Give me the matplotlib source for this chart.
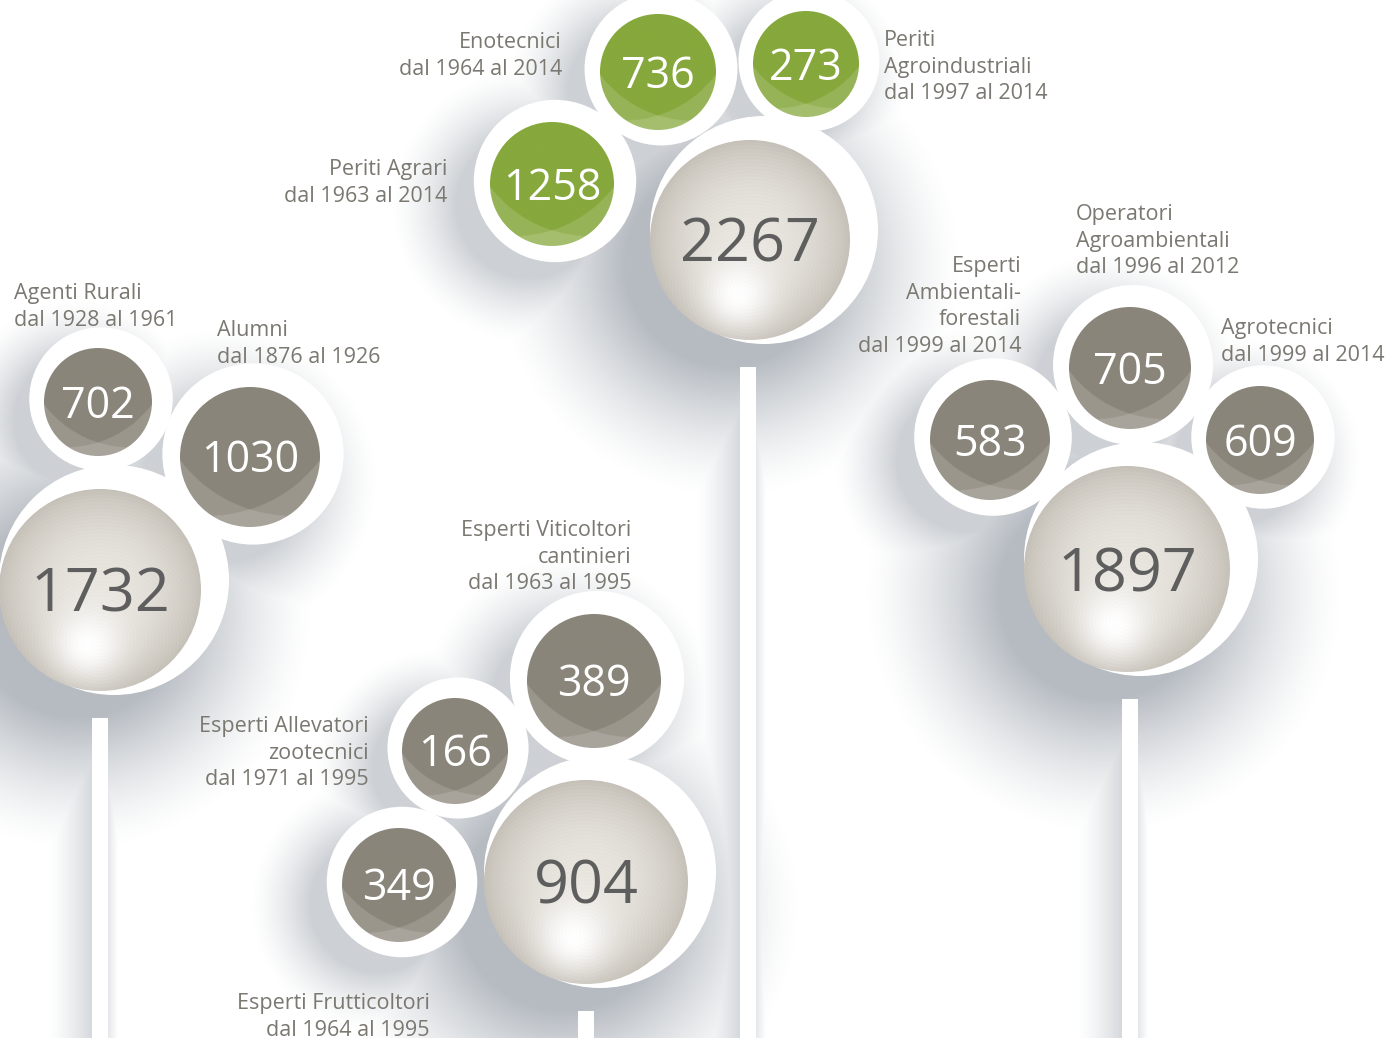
import numpy as np
import matplotlib.pyplot as plt
from matplotlib.patches import Circle

courses = ["Enotecnici", "Periti\nAgroindustriali", "Periti Agrari",
           "Agenti Rurali", "Alumni",
           "Esperti Viticoltori\ncantinieri", "Esperti Allevatori\nzootecnici",
           "Esperti Frutticoltori",
           "Esperti\nAmbientali-\nforestali", "Operatori\nAgroambientali", "Agrotecnici"]
periods = ["dal 1964 al 2014", "dal 1997 al 2014", "dal 1963 al 2014",
           "dal 1928 al 1961", "dal 1876 al 1926",
           "dal 1963 al 1995", "dal 1971 al 1995", "dal 1964 al 1995",
           "dal 1999 al 2014", "dal 1996 al 2012", "dal 1999 al 2014"]
graduates = [736, 273, 1258, 702, 1030, 389, 166, 349, 583, 705, 609]
course_group = [0, 0, 0, 1, 1, 2, 2, 2, 3, 3, 3]
group_totals = [2267, 1732, 904, 1897]

# ---- layout (pixels, y downwards) ----
W, H = 1394, 1038
course_xy = [(658, 72), (806, 64), (552, 184), (98, 402), (250, 457),
             (594, 681), (455, 751), (399, 885), (990, 440), (1130, 368), (1260, 440)]
course_r = [58, 53, 62, 54, 70, 67, 53, 57, 60, 61, 54]
label_xy = [(562, 48), (884, 46), (447, 175), (14, 299), (217, 336),
            (631, 536), (369, 732), (430, 1009), (1021, 272), (1076, 220), (1221, 334)]
label_ha = ["right", "left", "right", "left", "left",
            "right", "right", "right", "right", "left", "left"]
total_xy = [(750, 240), (100, 590), (586, 882), (1127, 569)]
total_r = [100, 101, 102, 103]
stem_x = [748, 100, 586, 1130]

GREEN = (134, 168, 60)
GRAY = (138, 133, 122)
LABEL = "#7b7871"
FONT = "Open Sans"

fig = plt.figure(figsize=(W / 100, H / 100), dpi=100)
ax = fig.add_axes([0, 0, 1, 1])
ax.set_xlim(0, W)
ax.set_ylim(H, 0)
ax.axis("off")

# white backing discs: small ones get an even ring, big ones sit off-centre
# (x, y, radius, shadow strength, shadow reach)
white = []
for (cx, cy), r in zip(course_xy, course_r):
    white.append((cx + 3, cy - 3, r + 0.18 * r + 8, 0.45, 0.8))
for (cx, cy), r in zip(total_xy, total_r):
    white.append((cx + 14, cy - 10, r + 14, 0.66, 1.15))

# soft shadows cast towards the lower left, plus the stem shadows
yy, xx = np.mgrid[0:H, 0:W] + 0.5
shade = np.zeros((H, W))
for wx, wy, R, a, reach in white:
    d = np.hypot(xx - (wx - 0.32 * R), yy - (wy + 0.30 * R)) - R
    s = np.clip(1 - (d + 0.1 * R) / (reach * R), 0, 1)
    shade = np.maximum(shade, a * s ** 1.4)

for sx, (tx, ty), tr in zip(stem_x, total_xy, total_r):
    top = ty + tr + 27
    xl, xr = sx - 8, sx + 8
    below = yy > top
    left = (xx > xl - 45) & (xx < xl) & below
    shade[left] = np.maximum(shade[left], 0.38 * ((xx[left] - (xl - 45)) / 45) ** 1.4)
    right = (xx > xr) & (xx < xr + 10) & below
    shade[right] = np.maximum(shade[right], 0.24 * (1 - (xx[right] - xr) / 10))
    shade[(xx >= xl) & (xx <= xr) & below] = 0

img = np.zeros((H, W, 4))
img[..., 0], img[..., 1], img[..., 2] = 0.57, 0.60, 0.64
img[..., 3] = shade
ax.imshow(img, extent=(0, W, H, 0), origin="upper", interpolation="bilinear", zorder=1)

for wx, wy, R, a, reach in white:
    ax.add_patch(Circle((wx, wy), R, fc="white", ec="none", zorder=2))

# small coloured discs with the two lighter crescents at the bottom
n = 260
py, px = np.mgrid[-1:1:n * 1j, -1:1:n * 1j]
out1 = (px - 0.6) ** 2 + (py + 1.163) ** 2 > 4.02
out2 = (px + 0.6) ** 2 + (py + 1.163) ** 2 > 4.02
level = out1.astype(float) + out2.astype(float)
for i, val in enumerate(graduates):
    cx, cy = course_xy[i]
    r = course_r[i]
    dark = np.array(GREEN if course_group[i] == 0 else GRAY) / 255
    k = 1 - 0.86 ** level
    col = dark + (1 - dark) * k[..., None]
    disc = Circle((cx, cy), r, fc="none", ec="none", zorder=3)
    ax.add_patch(disc)
    im = ax.imshow(col, extent=(cx - r, cx + r, cy + r, cy - r), origin="upper",
                   interpolation="bilinear", zorder=3)
    im.set_clip_path(disc)
    fs = 31
    ax.text(cx, cy + fs * 100 / 72 * 0.36, str(val), ha="center", va="baseline",
            fontsize=fs, color="white", family=FONT, zorder=6)

    lx, ly = label_xy[i]
    lines = courses[i].split("\n") + [periods[i]]
    for j, line in enumerate(lines):
        ax.text(lx, ly + j * 26.6, line, ha=label_ha[i], va="baseline",
                fontsize=15.5, color=LABEL, family=FONT, zorder=6)

# large pearl discs with the group totals
c_mid = np.array([232, 229, 223]) / 255
c_edge = np.array([198, 193, 184]) / 255
for (cx, cy), r, val in zip(total_xy, total_r, group_totals):
    t = np.clip(np.hypot(px, py), 0, 1)
    col = c_mid + (c_edge - c_mid) * (t ** 2.4)[..., None]
    hl = np.exp(-((px + 0.12) ** 2 + (py - 0.55) ** 2) / (2 * 0.24 ** 2))
    col = col * (1 - hl[..., None]) + hl[..., None]
    col = col + 0.006 * np.sin(np.hypot(px, py - 0.5) * 180)[..., None]
    pearl = Circle((cx, cy), r, fc="none", ec="none", zorder=3)
    ax.add_patch(pearl)
    im = ax.imshow(np.clip(col, 0, 1), extent=(cx - r, cx + r, cy + r, cy - r),
                   origin="upper", interpolation="bilinear", zorder=3)
    im.set_clip_path(pearl)
    fs = 44
    ax.text(cx, cy + fs * 100 / 72 * 0.36, str(val), ha="center", va="baseline",
            fontsize=fs, color="#5e5e5e", family=FONT, zorder=6)

ax.set_xlim(0, W)
ax.set_ylim(H, 0)
fig.savefig("out.png", dpi=100, facecolor="white")
